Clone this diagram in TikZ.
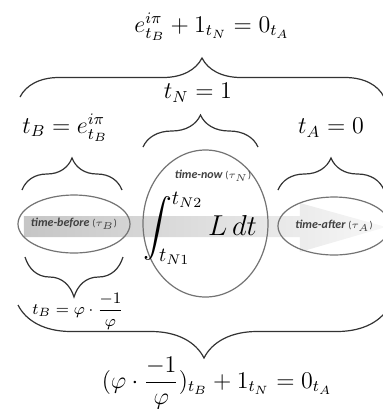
\documentclass[tikz,border=0pt]{standalone}
\usepackage{amsmath}
\usepackage{fontspec}
\newfontfamily\labelfont{Carlito}
\usetikzlibrary{shapes.geometric,decorations.pathreplacing}

\tikzset{
  curly/.style={decorate, decoration={brace, amplitude=#1}, line width=0.6pt, draw=black!80},
  oval/.style={ellipse, draw=black!55, line width=0.6pt, inner sep=0pt},
  tag/.style={font=\labelfont\bfseries\itshape\fontsize{6}{7}\selectfont, text=black!75},
  eq/.style={font=\large},
}

\begin{document}
\begin{tikzpicture}[x=0.5pt, y=-0.5pt]
  \useasboundingbox (0,0) rectangle (383,409);

  % time arrow behind the ovals
  \shade[left color=gray!45, right color=gray!6]
    (24,216) -- (300,216) -- (300,203) -- (386,227) -- (300,252)
    -- (300,237) -- (24,237) -- cycle;

  % the three ovals
  \node[oval, minimum width=56pt, minimum height=29pt] (before) at (74,224) {};
  \node[oval, minimum width=62.5pt, minimum height=73.5pt] (now) at (205.5,223.5) {};
  \node[oval, minimum width=56pt, minimum height=29pt] (after) at (334,226) {};

  \node[tag] (beforetxt) at (before) {time-before {\tiny\mdseries\upshape($\tau_B$)}};
  \node[tag] (aftertxt) at (after) {time-after {\tiny\mdseries\upshape($\tau_A$)}};
  \node[tag] (nowtxt) at (213,176) {time-now {\tiny\mdseries\upshape($\tau_N$)}};
  \node[font=\fontsize{14}{17}\selectfont] (integral) at (200,228)
    {$\displaystyle\int_{t_{N1}}^{t_{N2}} L\,dt$};

  % braces above
  \draw[curly=19.5pt] (20,97) -- (384,97);
  \draw[curly=16pt] (143,147) -- (258,147);
  \draw[curly=16pt] (22,190) -- (122,190);
  \draw[curly=16pt] (278,190) -- (384,190);

  % braces below
  \draw[curly=20pt] (123,257) -- (25,257);
  \draw[curly=26.5pt] (390,305) -- (18,305);

  % equations
  \node[eq] (top) at (212,27) {$e^{i\pi}_{t_B} + 1_{t_N} = 0_{t_A}$};
  \node[eq] (tn) at (198,93) {$t_N = 1$};
  \node[eq] (tb) at (65,128) {$t_B = e^{i\pi}_{t_B}$};
  \node[eq] (ta) at (331,128) {$t_A = 0$};
  \node[font=\fontsize{8.5}{10}\selectfont] (tbphi) at (78,311)
    {$t_B = \varphi\cdot\dfrac{-1}{\varphi}$};
  \node[eq] (bottom) at (217,383)
    {$(\varphi\cdot\dfrac{-1}{\varphi})_{t_B} + 1_{t_N} = 0_{t_A}$};
\end{tikzpicture}
\end{document}
